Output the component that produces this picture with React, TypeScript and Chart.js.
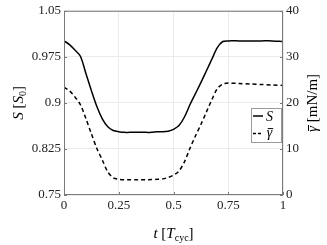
import React, { useEffect, useRef } from "react";
import { Chart, registerables } from "chart.js";

Chart.register(...registerables);

const tValues = [0, 0.025, 0.05, 0.075, 0.1, 0.125, 0.15, 0.175, 0.2, 0.225, 0.25, 0.275, 0.3, 0.325, 0.35, 0.375, 0.4, 0.425, 0.45, 0.475, 0.5, 0.525, 0.55, 0.575, 0.6, 0.625, 0.65, 0.675, 0.7, 0.725, 0.75, 0.8, 0.85, 0.9, 0.95, 1.0];
const sValues = [1.001, 0.995, 0.986, 0.976, 0.948, 0.92, 0.894, 0.874, 0.861, 0.855, 0.853, 0.852, 0.852, 0.852, 0.852, 0.852, 0.852, 0.853, 0.853, 0.854, 0.857, 0.863, 0.877, 0.897, 0.915, 0.933, 0.952, 0.971, 0.99, 1.0, 1.001, 1.001, 1.001, 1.001, 1.001, 1.0];
const gammaValues = [23.4, 22.6, 21.3, 19.6, 16.6, 13.3, 10.1, 7.6, 5.0, 3.75, 3.4, 3.3, 3.3, 3.3, 3.3, 3.3, 3.35, 3.4, 3.5, 3.8, 4.3, 5.2, 7.2, 10.1, 12.8, 15.3, 18.0, 20.7, 23.1, 24.1, 24.3, 24.2, 24.1, 24.0, 23.9, 23.8];
const xTicks = [0, 0.25, 0.5, 0.75, 1];
const xTickLabels = ["0", "0.25", "0.5", "0.75", "1"];
const sTicks = [0.75, 0.825, 0.9, 0.975, 1.05];
const sTickLabels = ["0.75", "0.825", "0.9", "0.975", "1.05"];
const gTicks = [0, 10, 20, 30, 40];
const gTickLabels = ["0", "10", "20", "30", "40"];

const FONT = "'Liberation Serif', 'DejaVu Serif', serif";

type Run = { t: string; italic?: boolean; size?: number; dy?: number; overline?: boolean };

function drawRuns(ctx: CanvasRenderingContext2D, runs: Run[], cx: number, cy: number, base: number) {
  const fontOf = (r: Run) => `${r.italic ? "italic " : ""}${r.size ?? base}px ${FONT}`;
  let total = 0;
  const widths = runs.map((r) => {
    ctx.font = fontOf(r);
    const w = ctx.measureText(r.t).width;
    total += w;
    return w;
  });
  let x = cx - total / 2;
  ctx.textAlign = "left";
  ctx.textBaseline = "alphabetic";
  runs.forEach((r, i) => {
    ctx.font = fontOf(r);
    ctx.fillText(r.t, x, cy + (r.dy ?? 0));
    if (r.overline) {
      const s = r.size ?? base;
      ctx.fillRect(x + 1, cy - s * 0.6, widths[i], 1);
    }
    x += widths[i];
  });
}

const decorPlugin = {
  id: "decor",
  afterDatasetsDraw(chart: any) {
    const ctx: CanvasRenderingContext2D = chart.ctx;
    const { left, right, top, bottom } = chart.chartArea;
    ctx.save();
    // frame
    ctx.strokeStyle = "#7a7a7a";
    ctx.lineWidth = 1;
    ctx.strokeRect(left + 0.5, top + 0.5, right - left - 1, bottom - top - 1);
    // inner tick marks
    const xs = chart.scales.x;
    const ys = chart.scales.y;
    ctx.beginPath();
    xTicks.forEach((v) => {
      const px = Math.round(xs.getPixelForValue(v)) + 0.5;
      ctx.moveTo(px, bottom);
      ctx.lineTo(px, bottom - 3);
    });
    sTicks.forEach((v) => {
      const py = Math.round(ys.getPixelForValue(v)) + 0.5;
      ctx.moveTo(left, py);
      ctx.lineTo(left + 3, py);
      ctx.moveTo(right, py);
      ctx.lineTo(right - 3, py);
    });
    ctx.stroke();

    // legend box
    const lx = 251, ly = 108, lw = 31, lh = 35;
    ctx.fillStyle = "#ffffff";
    ctx.fillRect(lx, ly, lw, lh);
    ctx.strokeStyle = "#9a9a9a";
    ctx.strokeRect(lx + 0.5, ly + 0.5, lw - 1, lh - 1);
    ctx.strokeStyle = "#000";
    ctx.lineWidth = 1.5;
    ctx.beginPath();
    ctx.moveTo(lx + 2, ly + 8);
    ctx.lineTo(lx + 12, ly + 8);
    ctx.stroke();
    ctx.setLineDash([3, 2]);
    ctx.beginPath();
    ctx.moveTo(lx + 2, ly + 25.5);
    ctx.lineTo(lx + 12, ly + 25.5);
    ctx.stroke();
    ctx.setLineDash([]);
    ctx.fillStyle = "#000";
    drawRuns(ctx, [{ t: "S", italic: true }], lx + 18.5, ly + 12.5, 14);
    drawRuns(ctx, [{ t: "γ", italic: true, overline: true }], lx + 18.5, ly + 28.5, 14);

    // axis titles
    ctx.fillStyle = "#000";
    drawRuns(ctx, [{ t: "t", italic: true }, { t: " [" }, { t: "T", italic: true }, { t: "cyc", size: 10, dy: 3 }, { t: "]" }], (left + right) / 2, 238, 15);
    ctx.save();
    ctx.translate(23, (top + bottom) / 2);
    ctx.rotate(-Math.PI / 2);
    drawRuns(ctx, [{ t: "S", italic: true }, { t: " [" }, { t: "S", italic: true }, { t: "0", size: 10, dy: 3 }, { t: "]" }], 0, 0, 15);
    ctx.restore();
    ctx.save();
    ctx.translate(317, (top + bottom) / 2);
    ctx.rotate(-Math.PI / 2);
    drawRuns(ctx, [{ t: "γ", italic: true, overline: true }, { t: " [mN/m]" }], 0, 0, 15);
    ctx.restore();
    ctx.restore();
  },
};

export default function App() {
  const ref = useRef<HTMLCanvasElement | null>(null);
  useEffect(() => {
    if (!ref.current) return;
    const tickFont = { family: FONT, size: 13 };
    const chart = new Chart(ref.current, {
      type: "line",
      data: {
        datasets: [
          {
            label: "S",
            data: tValues.map((t, i) => ({ x: t, y: sValues[i] })),
            borderColor: "#000",
            borderWidth: 1.5,
            pointRadius: 0,
            tension: 0.3,
            yAxisID: "y",
          },
          {
            label: "gamma",
            data: tValues.map((t, i) => ({ x: t, y: gammaValues[i] })),
            borderColor: "#000",
            borderWidth: 1.5,
            borderDash: [4, 3],
            pointRadius: 0,
            tension: 0.3,
            yAxisID: "y2",
          },
        ],
      },
      options: {
        animation: false,
        responsive: false,
        devicePixelRatio: 1,
        layout: { padding: { top: 10, left: 0, right: 0, bottom: 0 } },
        plugins: { legend: { display: false }, tooltip: { enabled: false } },
        scales: {
          x: {
            type: "linear",
            min: 0,
            max: 1,
            afterBuildTicks: (s: any) => { s.ticks = xTicks.map((v) => ({ value: v })); },
            afterFit: (s: any) => { s.height = 50; },
            ticks: { font: tickFont, color: "#222", padding: 3, maxRotation: 0, callback: (v: any) => xTickLabels[xTicks.indexOf(Number(v))] ?? "" },
            grid: { color: "#ebebeb", drawTicks: false },
            border: { display: false },
          },
          y: {
            type: "linear",
            position: "left",
            min: 0.75,
            max: 1.05,
            afterBuildTicks: (s: any) => { s.ticks = sTicks.map((v) => ({ value: v })); },
            afterFit: (s: any) => { s.width = 64; },
            ticks: { font: tickFont, color: "#222", padding: 3, callback: (v: any) => { const i = sTicks.findIndex((t) => Math.abs(t - Number(v)) < 1e-6); return i >= 0 ? sTickLabels[i] : ""; } },
            grid: { color: "#ebebeb", drawTicks: false },
            border: { display: false },
          },
          y2: {
            type: "linear",
            position: "right",
            min: 0,
            max: 40,
            afterBuildTicks: (s: any) => { s.ticks = gTicks.map((v) => ({ value: v })); },
            afterFit: (s: any) => { s.width = 44; },
            ticks: { font: tickFont, color: "#222", padding: 3, callback: (v: any) => gTickLabels[gTicks.indexOf(Number(v))] ?? "" },
            grid: { drawOnChartArea: false, drawTicks: false },
            border: { display: false },
          },
        },
      },
      plugins: [decorPlugin],
    } as any);
    return () => chart.destroy();
  }, []);
  return (
    <div style={{ position: "absolute", left: 0, top: 0, width: 327, height: 245, background: "#fff" }}>
      <canvas ref={ref} width={327} height={245} style={{ width: 327, height: 245, display: "block" }} />
    </div>
  );
}
